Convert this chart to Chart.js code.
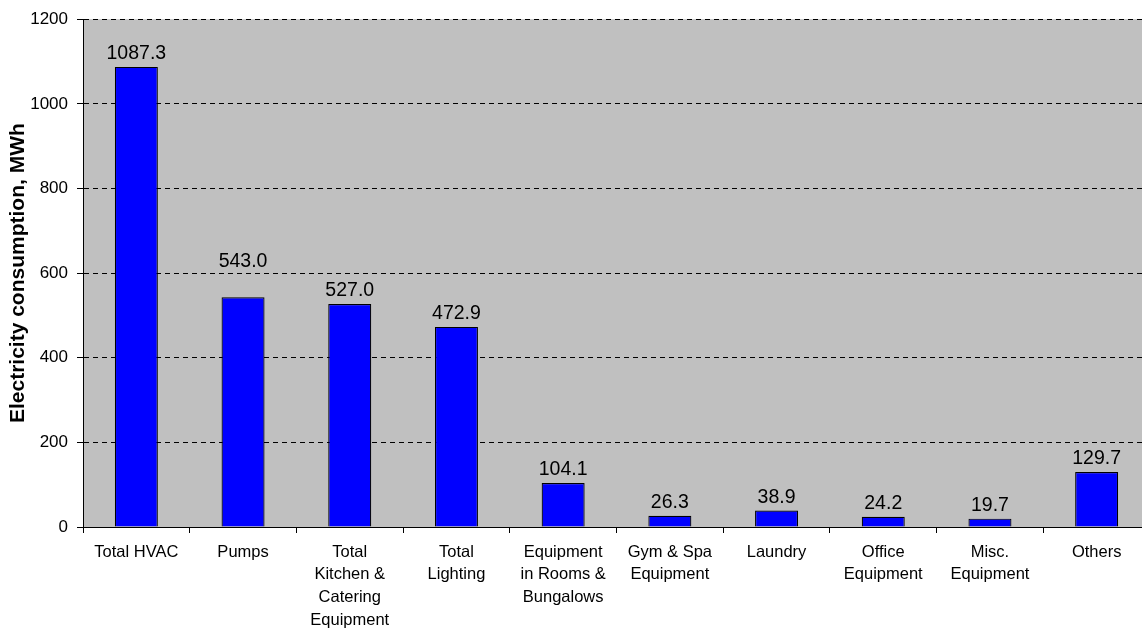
<html>
  <head>
    <script src="https://cdn.jsdelivr.net/npm/chart.js@4/dist/chart.umd.min.js"></script>
  </head>
  <body>
    <div id="wrap"><canvas id="graph"></canvas></div>
    <style>
      body{
        margin: 0;
        background-color: white;
        overflow: hidden;
      }
      #wrap{
        width: 1160px;
        height: 629px;
      }
    </style>
    <script>
      var categories = [
        ['Total HVAC'],
        ['Pumps'],
        ['Total', 'Kitchen &', 'Catering', 'Equipment'],
        ['Total', 'Lighting'],
        ['Equipment', 'in Rooms &', 'Bungalows'],
        ['Gym & Spa', 'Equipment'],
        ['Laundry'],
        ['Office', 'Equipment'],
        ['Misc.', 'Equipment'],
        ['Others']
      ];
      var consumption = [1087.3, 543.0, 527.0, 472.9, 104.1, 26.3, 38.9, 24.2, 19.7, 129.7];
      var yTicks = [0, 200, 400, 600, 800, 1000, 1200];

      var FONT = "'Liberation Sans', Arial, sans-serif";

      // grey plot background
      var plotBg = {
        id: 'plotBg',
        beforeDraw: function(chart){
          var a = chart.chartArea, ctx = chart.ctx;
          ctx.save();
          ctx.fillStyle = '#c0c0c0';
          ctx.fillRect(a.left, a.top, a.right - a.left, a.bottom - a.top);
          ctx.restore();
        }
      };

      // value labels above the bars (the Pumps label sits a bit higher)
      var labelLift = {1: 22};
      var valueLabels = {
        id: 'valueLabels',
        afterDatasetsDraw: function(chart){
          var ctx = chart.ctx;
          var meta = chart.getDatasetMeta(0);
          ctx.save();
          ctx.font = '19.5px ' + FONT;
          ctx.fillStyle = 'black';
          ctx.textAlign = 'center';
          ctx.textBaseline = 'alphabetic';
          meta.data.forEach(function(bar, i){
            var lift = labelLift[i] || 0;
            ctx.fillText(consumption[i].toFixed(1), bar.x, bar.y - 8 - lift);
          });
          ctx.restore();
        }
      };

      var chartConfig = {
        type: 'bar',
        data: {
          labels: categories,
          datasets: [{
            data: consumption,
            backgroundColor: '#0000ff',
            borderColor: 'black',
            borderWidth: 1.2,
            categoryPercentage: 1,
            barPercentage: 0.403
          }]
        },
        options: {
          responsive: true,
          maintainAspectRatio: false,
          animation: false,
          layout: {
            padding: {top: 18, right: 10, left: 0, bottom: 0}
          },
          plugins: {
            legend: {display: false},
            tooltip: {enabled: false}
          },
          scales: {
            x: {
              grid: {
                display: true,
                offset: true,
                drawOnChartArea: false,
                color: 'black',
                tickColor: 'black',
                tickLength: 6,
                lineWidth: 1
              },
              border: {color: 'black', width: 1},
              ticks: {
                color: 'black',
                padding: 8,
                maxRotation: 0,
                autoSkip: false,
                font: {family: FONT, size: 16.5, lineHeight: 1.37}
              },
              afterFit: function(scale){ scale.height = 102; }
            },
            y: {
              min: 0,
              max: 1200,
              afterBuildTicks: function(scale){
                scale.ticks = yTicks.map(function(v){ return {value: v}; });
              },
              grid: {
                color: 'black',
                lineWidth: 1,
                tickColor: 'black',
                tickLength: 6,
                tickBorderDash: []
              },
              // dash here applies to the horizontal grid lines
              border: {color: 'black', width: 1, dash: [5, 4]},
              ticks: {
                color: 'black',
                padding: 9,
                font: {family: FONT, size: 17},
                callback: function(v){ return String(v); }
              },
              title: {
                display: true,
                text: 'Electricity consumption, MWh',
                color: 'black',
                padding: {top: 6, bottom: 0},
                font: {family: FONT, size: 21, weight: 'bold'}
              },
              afterFit: function(scale){ scale.width = 83; }
            }
          }
        },
        plugins: [plotBg, valueLabels]
      };

      var graph = new Chart(document.getElementById('graph'), chartConfig);
    </script>
  </body>
</html>
